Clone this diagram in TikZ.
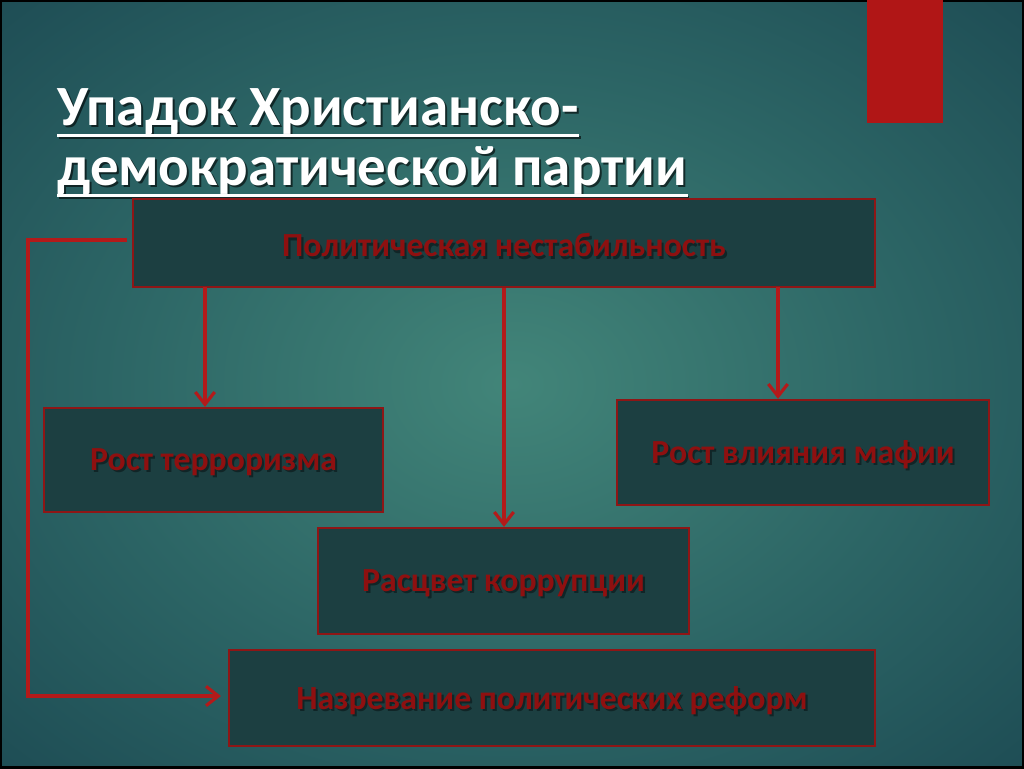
\documentclass[tikz,border=0pt]{standalone}
\usepackage{fontspec}
\setmainfont{Carlito}
\usetikzlibrary{arrows.meta}
\definecolor{bgin}{HTML}{428579}
\definecolor{bgmid}{HTML}{2C6565}
\definecolor{bgedge}{HTML}{1A4650}
\definecolor{bgout}{HTML}{123646}
\definecolor{boxfill}{HTML}{1C3F41}
\definecolor{boxline}{HTML}{8E1616}
\definecolor{boxtext}{HTML}{8E1010}
\definecolor{arrowred}{HTML}{B31A1A}
\definecolor{deco}{HTML}{B01616}
\pgfdeclareradialshading{slidebg}{\pgfpoint{0bp}{0bp}}{color(0bp)=(bgin); color(20bp)=(bgmid); color(40bp)=(bgedge); color(60bp)=(bgout); color(100bp)=(bgout)}
\tikzset{
  box/.style={draw=boxline, line width=1.3pt, fill=boxfill, inner sep=0pt},
  boxlabel/.style={text=boxtext, font=\bfseries\fontsize{19.2}{22}\selectfont},
  shadowlabel/.style={text=black, opacity=0.4, font=\bfseries\fontsize{19.2}{22}\selectfont},
  conn/.style={draw=arrowred, line width=1.8pt, -{Straight Barb[length=7pt,width=11pt,line width=1.8pt]}},
  titletext/.style={text=white, font=\bfseries\fontsize{32.4}{38}\selectfont, inner sep=0pt, anchor=base west},
  titleshadow/.style={text=black, opacity=0.6, font=\bfseries\fontsize{32.4}{38}\selectfont, inner sep=0pt, anchor=base west}
}
\begin{document}
\begin{tikzpicture}[x=0.02cm,y=-0.02cm]
\useasboundingbox (0,0) rectangle (1024,768);
\shade[shading=slidebg] (0,0) rectangle (1024,768);
\draw[black, line width=2.5pt] (0,0) rectangle (1024,768);
% decorative red bar
\fill[deco] (867,0) rectangle (943,123);
% title
\node[titleshadow] at (59,127) {Упадок Христианско-};
\node[titleshadow] at (59,187) {демократической партии};
\node[titletext] (t1) at (57,125) {Упадок Христианско-};
\node[titletext] (t2) at (57,185) {демократической партии};
\draw[black, opacity=0.6, line width=1.8pt] ([xshift=1.1pt,yshift=-7.1pt]t1.base west) -- ([xshift=1.1pt,yshift=-7.1pt]t1.base east);
\draw[black, opacity=0.6, line width=1.8pt] ([xshift=1.1pt,yshift=-7.1pt]t2.base west) -- ([xshift=1.1pt,yshift=-7.1pt]t2.base east);
\draw[white, line width=1.8pt] ([yshift=-6pt]t1.base west) -- ([yshift=-6pt]t1.base east);
\draw[white, line width=1.8pt] ([yshift=-6pt]t2.base west) -- ([yshift=-6pt]t2.base east);
% boxes
\node[box, minimum width=14.84cm, minimum height=1.76cm] (top) at (504,243) {};
\node[box, minimum width=6.78cm, minimum height=2.08cm] (terr) at (213.5,460) {};
\node[box, minimum width=7.44cm, minimum height=2.10cm] (mafia) at (803,452.5) {};
\node[box, minimum width=7.42cm, minimum height=2.12cm] (corr) at (503.5,581) {};
\node[box, minimum width=12.92cm, minimum height=1.92cm] (ref) at (552,698) {};
% labels
\node[shadowlabel] at ([xshift=1.2pt,yshift=-2.6pt]top.center) {Политическая нестабильность};
\node[boxlabel] at ([yshift=-1.4pt]top.center) {Политическая нестабильность};
\node[shadowlabel] at ([xshift=1.2pt,yshift=-2.6pt]terr.center) {Рост терроризма};
\node[boxlabel] at ([yshift=-1.4pt]terr.center) {Рост терроризма};
\node[shadowlabel] at ([xshift=1.2pt,yshift=-2.6pt]mafia.center) {Рост влияния мафии};
\node[boxlabel] at ([yshift=-1.4pt]mafia.center) {Рост влияния мафии};
\node[shadowlabel] at ([xshift=1.2pt,yshift=-2.6pt]corr.center) {Расцвет коррупции};
\node[boxlabel] at ([yshift=-1.4pt]corr.center) {Расцвет коррупции};
\node[shadowlabel] at ([xshift=1.2pt,yshift=-2.6pt]ref.center) {Назревание политических реформ};
\node[boxlabel] at ([yshift=-1.4pt]ref.center) {Назревание политических реформ};
% connectors
\coordinate (a1) at (205,287);
\coordinate (a3) at (778,287);
\draw[conn] (a1) -- (a1 |- terr.north);
\draw[conn] (top.south) -- (top.south |- corr.north);
\draw[conn] (a3) -- (a3 |- mafia.north);
\coordinate (c1) at (127,240);
\coordinate (c2) at (28,240);
\coordinate (c3) at (28,696);
\draw[conn] (c1) -- (c2) -- (c3) -- ([xshift=-4pt]ref.west |- c3);
\end{tikzpicture}
\end{document}
